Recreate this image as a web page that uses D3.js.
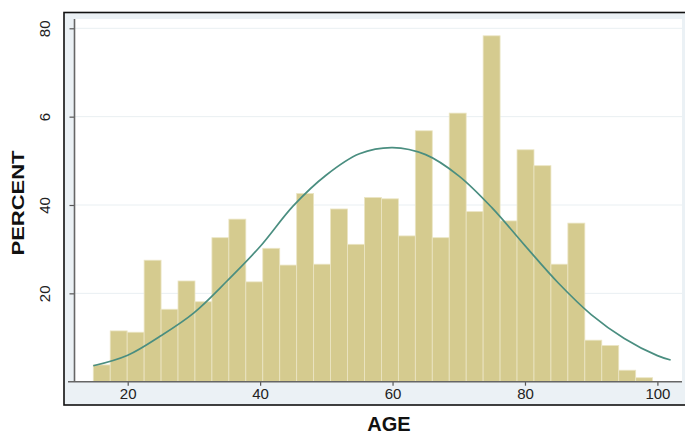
<!DOCTYPE html>
<html>
<head>
<meta charset="utf-8">
<script src="https://cdn.jsdelivr.net/npm/d3@7"></script>
<style>
  html, body { margin: 0; padding: 0; background: #fff; }
  svg { display: block; font-family: "Liberation Sans", Arial, sans-serif; }
</style>
</head>
<body>
<svg id="chart" width="685" height="434"></svg>
<script>
// Histogram: age bins (33 bins) with percent heights
const binStart = 14.8;
const binWidth = 2.56;
const percent = [3.8, 11.5, 11.2, 27.5, 16.4, 22.8, 18.1, 32.6, 36.8, 22.6, 30.2,
                 26.4, 42.6, 26.6, 39.1, 31.1, 41.7, 41.4, 33.0, 56.8, 32.6, 60.8,
                 38.5, 78.3, 36.4, 52.5, 48.9, 26.6, 35.9, 9.4, 8.2, 2.6, 0.9];

// Normal overlay
const curveAge = [14.8, 20, 25, 30, 35, 40, 45, 50, 55, 60, 65, 70, 75, 80, 85, 90, 95, 100, 102];
const curveValue = [3.6, 6.0, 10.4, 15.6, 22.8, 30.6, 39.8, 46.8, 51.6, 53.0, 51.4,
                    46.6, 39.4, 30.8, 22.4, 15.2, 9.8, 5.9, 4.9];

// Axis ticks (labels kept as printed)
const xTicks = [20, 40, 60, 80, 100];
const yTicks = [20, 40, 60, 80];
const yTickLabels = ["20", "40", "6", "80"];

const svg = d3.select("#chart");

const x = d3.scaleLinear().domain([20, 100]).range([127.7, 657.4]);
const y = d3.scaleLinear().domain([0, 80]).range([381.7, 28.3]);

// Graph region with black frame
svg.append("rect")
    .attr("x", 64).attr("y", 12.5)
    .attr("width", 640).attr("height", 392.5)
    .attr("fill", "#ebf1f5")
    .attr("stroke", "#111")
    .attr("stroke-width", 1.6);

// Plot region
svg.append("rect")
    .attr("x", 75).attr("y", 19)
    .attr("width", 607).attr("height", 362.7)
    .attr("fill", "#fff");

// Grid lines
svg.append("g")
    .selectAll("line")
    .data(yTicks)
    .join("line")
    .attr("x1", 75).attr("x2", 682)
    .attr("y1", d => y(d)).attr("y2", d => y(d))
    .attr("stroke", "#e9eff2")
    .attr("stroke-width", 1);

// Bars
svg.append("g")
    .selectAll("rect")
    .data(percent)
    .join("rect")
    .attr("x", (d, i) => x(binStart + i * binWidth))
    .attr("y", d => y(d))
    .attr("width", (d, i) => x(binStart + (i + 1) * binWidth) - x(binStart + i * binWidth))
    .attr("height", d => y(0) - y(d))
    .attr("fill", "#d5cb8f")
    .attr("stroke", "#ebe5c4")
    .attr("stroke-width", 0.8);

// Normal curve
const line = d3.line()
    .x((d, i) => x(curveAge[i]))
    .y(d => y(d))
    .curve(d3.curveCatmullRom);

svg.append("path")
    .datum(curveValue)
    .attr("d", line)
    .attr("fill", "none")
    .attr("stroke", "#4a8e80")
    .attr("stroke-width", 1.7);

// X axis
const xAxis = svg.append("g")
    .attr("transform", `translate(0,${y(0)})`)
    .call(d3.axisBottom(x).tickValues(xTicks).tickSize(4).tickPadding(3));
xAxis.select(".domain").remove();
xAxis.selectAll(".tick line").attr("stroke", "#555").attr("stroke-width", 1.2);
xAxis.selectAll(".tick text")
    .attr("fill", "#222")
    .style("font-size", "15px");
svg.append("line")
    .attr("x1", 68).attr("x2", 682)
    .attr("y1", y(0)).attr("y2", y(0))
    .attr("stroke", "#666")
    .attr("stroke-width", 1.6);

// Y axis
const yAxis = svg.append("g")
    .attr("transform", "translate(74.5,0)")
    .call(d3.axisLeft(y).tickValues(yTicks).tickSize(5)
        .tickFormat((d, i) => yTickLabels[i]));
yAxis.select(".domain").remove();
yAxis.selectAll(".tick line").attr("stroke", "#555").attr("stroke-width", 1.2);
yAxis.selectAll(".tick text")
    .attr("x", null).attr("dy", null)
    .attr("transform", "translate(-25,0) rotate(-90)")
    .attr("text-anchor", "middle")
    .attr("fill", "#222")
    .style("font-size", "15px");
svg.append("line")
    .attr("x1", 74.5).attr("x2", 74.5)
    .attr("y1", 19).attr("y2", y(0))
    .attr("stroke", "#666")
    .attr("stroke-width", 1.6);

// Axis titles
svg.append("text")
    .attr("x", 389).attr("y", 430.5)
    .attr("text-anchor", "middle")
    .style("font-size", "20px")
    .style("font-weight", "bold")
    .attr("fill", "#111")
    .text("AGE");

svg.append("text")
    .attr("transform", "translate(24,203) rotate(-90)")
    .attr("text-anchor", "middle")
    .attr("textLength", 105)
    .attr("lengthAdjust", "spacingAndGlyphs")
    .style("font-size", "17px")
    .style("font-weight", "bold")
    .attr("fill", "#111")
    .text("PERCENT");
</script>
</body>
</html>
